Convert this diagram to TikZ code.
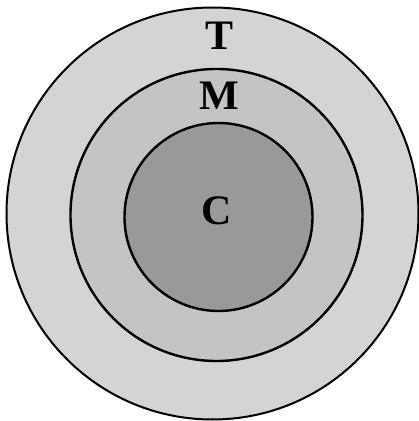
\documentclass[tikz,border=0pt]{standalone}
\usepackage{fontspec}
\setmainfont{Liberation Serif}
\begin{document}
\begin{tikzpicture}[x=1pt,y=1pt,
  ring/.style={circle, draw=black, inner sep=0pt, line width=2pt},
  lab/.style={font=\fontsize{42}{42}\selectfont\bfseries, inner sep=0pt}]
\useasboundingbox (0,0) rectangle (419,421);
\fill[white] (0,0) rectangle (419,421);
\node[ring, fill=black!17, minimum size=412pt] (outer) at (212.5,207.5) {};
\node[ring, fill=black!23, minimum size=292pt, line width=2.4pt] (middle) at (216.5,206) {};
\node[ring, fill=black!40, minimum size=188pt, line width=2.4pt] (inner) at (218.5,204) {};
\node[lab] (T) at (219.5,385) {T};
\node[lab] (M) at (219.5,325) {M};
\node[lab] (C) at (216.5,210) {C};
\end{tikzpicture}
\end{document}
